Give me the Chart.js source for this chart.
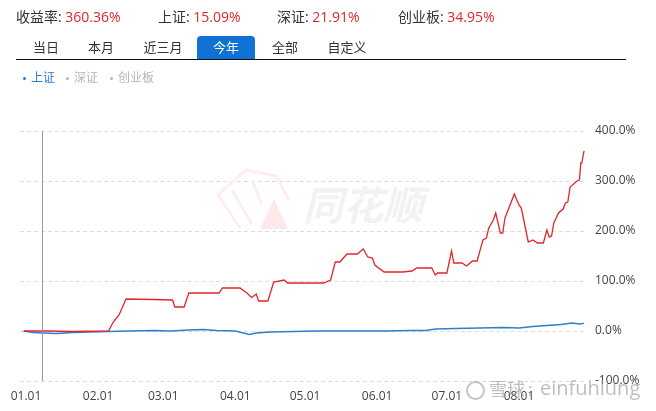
<!DOCTYPE html>
<html lang="zh-CN">
<head>
<meta charset="utf-8">
<title>收益走势 - 今年</title>
<script src="https://cdn.jsdelivr.net/npm/chart.js@4.4.1/dist/chart.umd.min.js"></script>
<style>
  html, body { margin: 0; padding: 0; background: #fff; }
  body {
    width: 656px; height: 411px; position: relative; overflow: hidden;
    font-family: "Open Sans", "Noto Sans CJK SC", sans-serif;
  }
  #chart { position: absolute; left: 0; top: 0; }
  .abs { position: absolute; white-space: nowrap; }
  .stat { top: 9px; font-size: 14px; line-height: 16px; color: #333; }
  .stat span { color: #e4262b; }
  .tab { top: 36px; width: 58px; height: 23px; line-height: 23px; text-align: center; font-size: 13px; color: #333; }
  .tab.on { background: #0f72d4; color: #fff; border-radius: 4px 4px 0 0; }
  .rule { left: 16px; top: 59px; width: 610px; height: 1px; background: #111; }
  .leg { top: 70px; font-size: 12px; line-height: 16px; color: #b5b5b5; }
  .leg i { display: inline-block; width: 3px; height: 3px; border-radius: 2px; background: currentColor; vertical-align: middle; margin-right: 5px; }
  .leg.on { color: #2b7ccb; }
  .mark { color: rgba(150, 150, 150, 0.62); }
  .mark .ring { left: 466px; top: 381px; width: 15px; height: 15px; border: 2px solid rgba(150, 150, 150, 0.55); border-radius: 50%; }
</style>
</head>
<body>
<canvas id="chart" width="656" height="411"></canvas>

<div class="abs stat" style="left:16px">收益率: <span>360.36%</span></div>
<div class="abs stat" style="left:158px">上证: <span>15.09%</span></div>
<div class="abs stat" style="left:277px">深证: <span>21.91%</span></div>
<div class="abs stat" style="left:398px">创业板: <span>34.95%</span></div>

<div class="abs tab" style="left:17px">当日</div>
<div class="abs tab" style="left:72px">本月</div>
<div class="abs tab" style="left:134px">近三月</div>
<div class="abs tab on" style="left:197px">今年</div>
<div class="abs tab" style="left:256px">全部</div>
<div class="abs tab" style="left:318px">自定义</div>
<div class="abs rule"></div>

<div class="abs leg on" style="left:23px"><i></i>上证</div>
<div class="abs leg" style="left:66px"><i></i>深证</div>
<div class="abs leg" style="left:110px"><i></i>创业板</div>

<div class="mark">
  <div class="abs ring"></div>
  <div class="abs" style="left:489px; top:377px; font-size:18px; line-height:24px;">雪球</div>
  <div class="abs" style="left:528px; top:377px; font-size:18px; line-height:24px;">:</div>
  <div class="abs" style="left:540px; top:376px; font-size:20px; line-height:24px;">einfuhlung</div>
</div>

<script>
// x 轴: 2025-01-01 起算的自然日
const tickDays = [0, 31, 59, 90, 120, 151, 181, 212];
const tickLabels = ['01.01', '02.01', '03.01', '04.01', '05.01', '06.01', '07.01', '08.01'];

// 组合收益率 (%)
const stratDays = [-1, 10, 20, 35.5, 37.5, 40, 43, 55, 63, 64, 68, 70, 83, 84.5, 92, 95, 97, 99, 100, 104,
  106.5, 111, 112.5, 128, 131, 133, 135, 138, 142.5, 145, 147, 149, 150, 154, 162, 166, 168, 174.5, 176, 177,
  181, 183, 184, 187.5, 189.5, 192, 194, 196.5, 198, 199, 201, 202, 204, 205, 206, 210, 212, 213, 216, 218,
  220, 222.5, 224, 225, 226, 227, 229, 231, 232, 233, 234, 237, 238, 238.6, 239, 240];
const stratPct = [0, 0, -1, 0, 18, 32, 64, 63, 62, 48, 48, 76, 76, 86, 86, 76, 67, 74, 60, 60,
  98, 102, 96, 96, 102, 138, 138, 154, 154, 164, 148, 146, 132, 118, 118, 120, 126, 126, 112, 116,
  116, 160, 136, 136, 130, 140, 140, 182, 186, 206, 222, 236, 196, 196, 226, 274, 252, 246, 178, 182,
  176, 176, 202, 188, 190, 216, 236, 244, 256, 258, 288, 300, 302, 336, 336, 360.36];

// 上证指数收益率 (%)
const shDays = [-1, 3, 8, 13, 20, 27, 35, 45, 55, 62, 70, 76, 82, 90, 96, 99, 105, 115, 125, 135,
  145, 155, 165, 172, 176, 185, 195, 205, 212, 218, 224, 230, 235, 238, 240];
const shPct = [0, -3, -4, -5, -3, -2, -1, 0, 1, 0, 2, 3, 1, 0, -7, -4, -2, -1, 0, 0,
  0, 0, 1, 1, 4, 5, 6, 7, 6, 9, 11, 13, 16, 14, 15.09];

const cursorDay = 7;

const FONT = '"Open Sans", "Noto Sans CJK SC", sans-serif';
const toPoints = (xs, ys) => xs.map((x, i) => ({ x, y: ys[i] }));

// 背景水印
const bgMark = {
  id: 'bgMark',
  beforeDatasetsDraw(chart) {
    const ctx = chart.ctx;
    ctx.save();
    ctx.strokeStyle = '#fdeeee';
    ctx.lineWidth = 3;
    ctx.beginPath();
    ctx.moveTo(240, 228); ctx.lineTo(218, 195); ctx.lineTo(246, 170);
    ctx.lineTo(276, 176); ctx.lineTo(289, 200);
    ctx.moveTo(232, 190); ctx.lineTo(252, 224);
    ctx.moveTo(252, 180); ctx.lineTo(262, 205);
    ctx.stroke();
    ctx.fillStyle = '#fce9e9';
    ctx.beginPath();
    ctx.moveTo(274, 199); ctx.lineTo(260, 229); ctx.lineTo(288, 229);
    ctx.closePath(); ctx.fill();
    ctx.font = 'italic bold 40px "Noto Sans CJK SC"';
    ctx.fillStyle = '#f2f2f2';
    ctx.textBaseline = 'alphabetic';
    ctx.fillText('同花顺', 303, 220);
    ctx.restore();
  }
};

// 十字光标竖线
const cursorLine = {
  id: 'cursorLine',
  afterDatasetsDraw(chart) {
    const { ctx, chartArea, scales } = chart;
    const x = Math.round(scales.x.getPixelForValue(cursorDay)) + 0.5;
    ctx.save();
    ctx.strokeStyle = '#9a9a9a';
    ctx.lineWidth = 1;
    ctx.beginPath();
    ctx.moveTo(x, chartArea.top);
    ctx.lineTo(x, chartArea.bottom);
    ctx.stroke();
    ctx.restore();
  }
};

new Chart(document.getElementById('chart'), {
  type: 'line',
  data: {
    datasets: [
      {
        label: '收益率',
        data: toPoints(stratDays, stratPct),
        borderColor: '#e2262c',
        borderWidth: 1.3,
        pointRadius: 0,
        tension: 0,
      },
      {
        label: '上证',
        data: toPoints(shDays, shPct),
        borderColor: '#2a80cf',
        borderWidth: 1.3,
        pointRadius: 0,
        tension: 0,
      },
    ],
  },
  options: {
    responsive: false,
    animation: false,
    layout: { padding: { left: 20, top: 131, right: 0, bottom: 0 } },
    plugins: { legend: { display: false }, tooltip: { enabled: false } },
    scales: {
      x: {
        type: 'linear',
        min: -2.6,
        max: 240.4,
        afterBuildTicks: (s) => { s.ticks = tickDays.map(v => ({ value: v })); },
        afterFit: (s) => { s.height = 30; },
        grid: { display: false, drawTicks: false },
        border: { display: false },
        ticks: {
          autoSkip: false,
          maxRotation: 0,
          padding: 8,
          color: '#444',
          font: { family: FONT, size: 12 },
          callback: (v) => tickLabels[tickDays.indexOf(v)],
        },
      },
      y: {
        position: 'right',
        min: -100,
        max: 400,
        afterFit: (s) => { s.width = 71; },
        grid: { color: '#dcdcdc', drawTicks: false },
        border: { display: false, dash: [4, 3] },
        ticks: {
          stepSize: 100,
          padding: 10,
          color: '#444',
          font: { family: FONT, size: 12 },
          callback: (v) => v.toFixed(1) + '%',
        },
      },
    },
  },
  plugins: [bgMark, cursorLine],
});
</script>
</body>
</html>
